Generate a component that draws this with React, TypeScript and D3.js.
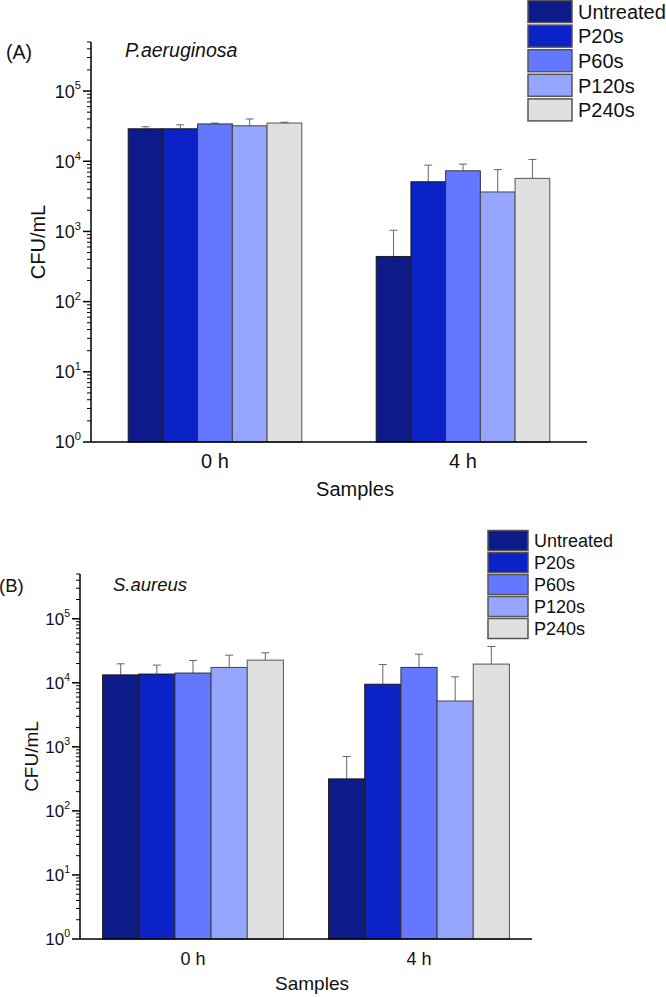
import React from "react";
import * as d3 from "d3";

const categories = ["0 h", "4 h"];
const seriesNames = ["Untreated", "P20s", "P60s", "P120s", "P240s"];
const seriesColors = ["#0c1a8a", "#0a22c6", "#6478ff", "#96a6ff", "#e0e0e0"];
const seriesStrokes = ["#1a1a1a", "#1a1a1a", "#333333", "#444444", "#555555"];

// Panel A: P.aeruginosa
const aMeans0h = [29000, 29000, 34000, 32000, 35000];
const aMeans4h = [440, 5100, 7300, 3650, 5700];
const aErr0h = [2000, 4000, 1000, 8000, 1000];
const aErr4h = [600, 3700, 1800, 3950, 4900];

// Panel B: S.aureus
const bMeans0h = [13300, 13700, 14200, 17400, 22600];
const bMeans4h = [316, 9500, 17400, 5200, 19600];
const bErr0h = [6500, 5200, 8100, 9600, 6800];
const bErr4h = [390, 9800, 10600, 7200, 17300];

const yDomain = [1, 500000];
const yMajorTicks = [1, 10, 100, 1000, 10000, 100000];
const yExponents = ["0", "1", "2", "3", "4", "5"];

const FONT = "'Liberation Sans', Arial, Helvetica, sans-serif";

type PanelProps = {
  means: number[][];
  errs: number[][];
  x0: number;
  x1: number;
  yTop: number;
  yBottom: number;
  padInner: number;
  tickFont: number;
  labelFont: number;
  catFont: number;
  letter: string;
  letterX: number;
  letterY: number;
  title: string;
  titleX: number;
  titleY: number;
  titleFont: number;
  yLabelX: number;
  xLabelX: number;
  xLabelY: number;
  catLabelY: number;
  legendX: number;
  legendY: number;
  legendW: number;
  legendH: number;
  legendStep: number;
  legendFont: number;
};

function Panel(p: PanelProps) {
  const x = d3
    .scaleBand<string>()
    .domain(categories)
    .range([p.x0, p.x1])
    .paddingInner(p.padInner)
    .paddingOuter(p.padInner / 2);
  const xs = d3
    .scaleBand<string>()
    .domain(seriesNames)
    .range([0, x.bandwidth()])
    .padding(0);
  const y = d3.scaleLog().domain(yDomain).range([p.yBottom, p.yTop]);

  const minorTicks: number[] = [];
  for (let e = 0; e < 6; e++) {
    for (let m = 2; m <= 9; m++) {
      const v = m * Math.pow(10, e);
      if (v <= yDomain[1]) minorTicks.push(v);
    }
  }

  const bars: React.ReactNode[] = [];
  categories.forEach((c, ci) => {
    seriesNames.forEach((s, si) => {
      const v = p.means[ci][si];
      const e = p.errs[ci][si];
      const bx = (x(c) as number) + (xs(s) as number);
      const bw = xs.bandwidth();
      const top = y(v);
      const cap = y(v + e);
      const cx = bx + bw / 2;
      bars.push(
        <g key={c + s}>
          <line x1={cx} x2={cx} y1={top} y2={cap} stroke="#666" strokeWidth={1} />
          <line x1={cx - 4} x2={cx + 4} y1={cap} y2={cap} stroke="#666" strokeWidth={1} />
          <rect
            x={bx}
            y={top}
            width={bw}
            height={p.yBottom - top}
            fill={seriesColors[si]}
            stroke={seriesStrokes[si]}
            strokeWidth={1}
          />
        </g>
      );
    });
  });

  const yMid = (p.yTop + p.yBottom) / 2;

  return (
    <g fontFamily={FONT}>
      {bars}
      {/* y axis */}
      <line x1={p.x0} x2={p.x0} y1={p.yTop} y2={p.yBottom} stroke="#000" strokeWidth={1.5} />
      {minorTicks.map((t) => (
        <line key={"m" + t} x1={p.x0 - 4} x2={p.x0} y1={y(t)} y2={y(t)} stroke="#000" strokeWidth={1} />
      ))}
      {yMajorTicks.map((t, i) => (
        <g key={"M" + t}>
          <line x1={p.x0 - 8} x2={p.x0} y1={y(t)} y2={y(t)} stroke="#000" strokeWidth={1.5} />
          <text
            x={p.x0 - 10}
            y={y(t) + p.tickFont * 0.36}
            textAnchor="end"
            fontSize={p.tickFont}
            fill="#111"
          >
            10
            <tspan fontSize={p.tickFont * 0.62} dy={-p.tickFont * 0.45}>
              {yExponents[i]}
            </tspan>
          </text>
        </g>
      ))}
      {/* x axis */}
      <line x1={p.x0} x2={p.x1} y1={p.yBottom} y2={p.yBottom} stroke="#000" strokeWidth={1.5} />
      {categories.map((c) => (
        <text
          key={"c" + c}
          x={(x(c) as number) + x.bandwidth() / 2}
          y={p.catLabelY}
          textAnchor="middle"
          fontSize={p.catFont}
          fill="#111"
        >
          {c}
        </text>
      ))}
      <text x={p.xLabelX} y={p.xLabelY} textAnchor="middle" fontSize={p.labelFont} fill="#111">
        Samples
      </text>
      <text
        transform={`translate(${p.yLabelX},${yMid}) rotate(-90)`}
        textAnchor="middle"
        fontSize={p.labelFont}
        fill="#111"
      >
        CFU/mL
      </text>
      <text x={p.letterX} y={p.letterY} fontSize={p.titleFont} fill="#111">
        {p.letter}
      </text>
      <text x={p.titleX} y={p.titleY} fontSize={p.titleFont} fontStyle="italic" fill="#111">
        {p.title}
      </text>
      {/* legend */}
      {seriesNames.map((s, i) => (
        <g key={"l" + s}>
          <rect
            x={p.legendX}
            y={p.legendY + i * p.legendStep}
            width={p.legendW}
            height={p.legendH}
            fill={seriesColors[i]}
            stroke="#555"
            strokeWidth={1.5}
          />
          <text
            x={p.legendX + p.legendW + 6}
            y={p.legendY + i * p.legendStep + p.legendH * 0.5 + p.legendFont * 0.36}
            fontSize={p.legendFont}
            fill="#111"
          >
            {s}
          </text>
        </g>
      ))}
    </g>
  );
}

export default function App() {
  return (
    <svg
      width={666}
      height={997}
      style={{ position: "absolute", left: 0, top: 0, background: "#fff" }}
    >
      <rect x={0} y={0} width={666} height={997} fill="#fff" />
      <Panel
        means={[aMeans0h, aMeans4h]}
        errs={[aErr0h, aErr4h]}
        x0={91}
        x1={587}
        yTop={42}
        yBottom={442}
        padInner={0.3}
        tickFont={18}
        labelFont={20}
        catFont={20}
        letter="(A)"
        letterX={6}
        letterY={59}
        title="P.aeruginosa"
        titleX={125}
        titleY={57}
        titleFont={19.5}
        yLabelX={45}
        xLabelX={355}
        xLabelY={496}
        catLabelY={468}
        legendX={528}
        legendY={0.5}
        legendW={44}
        legendH={22}
        legendStep={24.6}
        legendFont={20}
      />
      <Panel
        means={[bMeans0h, bMeans4h]}
        errs={[bErr0h, bErr4h]}
        x0={80}
        x1={532}
        yTop={574}
        yBottom={939}
        padInner={0.2}
        tickFont={17}
        labelFont={19}
        catFont={18}
        letter="(B)"
        letterX={-1}
        letterY={592}
        title="S.aureus"
        titleX={113}
        titleY={591}
        titleFont={18.5}
        yLabelX={38}
        xLabelX={312}
        xLabelY={990}
        catLabelY={965}
        legendX={488}
        legendY={530.5}
        legendW={40}
        legendH={20}
        legendStep={22}
        legendFont={18}
      />
    </svg>
  );
}
